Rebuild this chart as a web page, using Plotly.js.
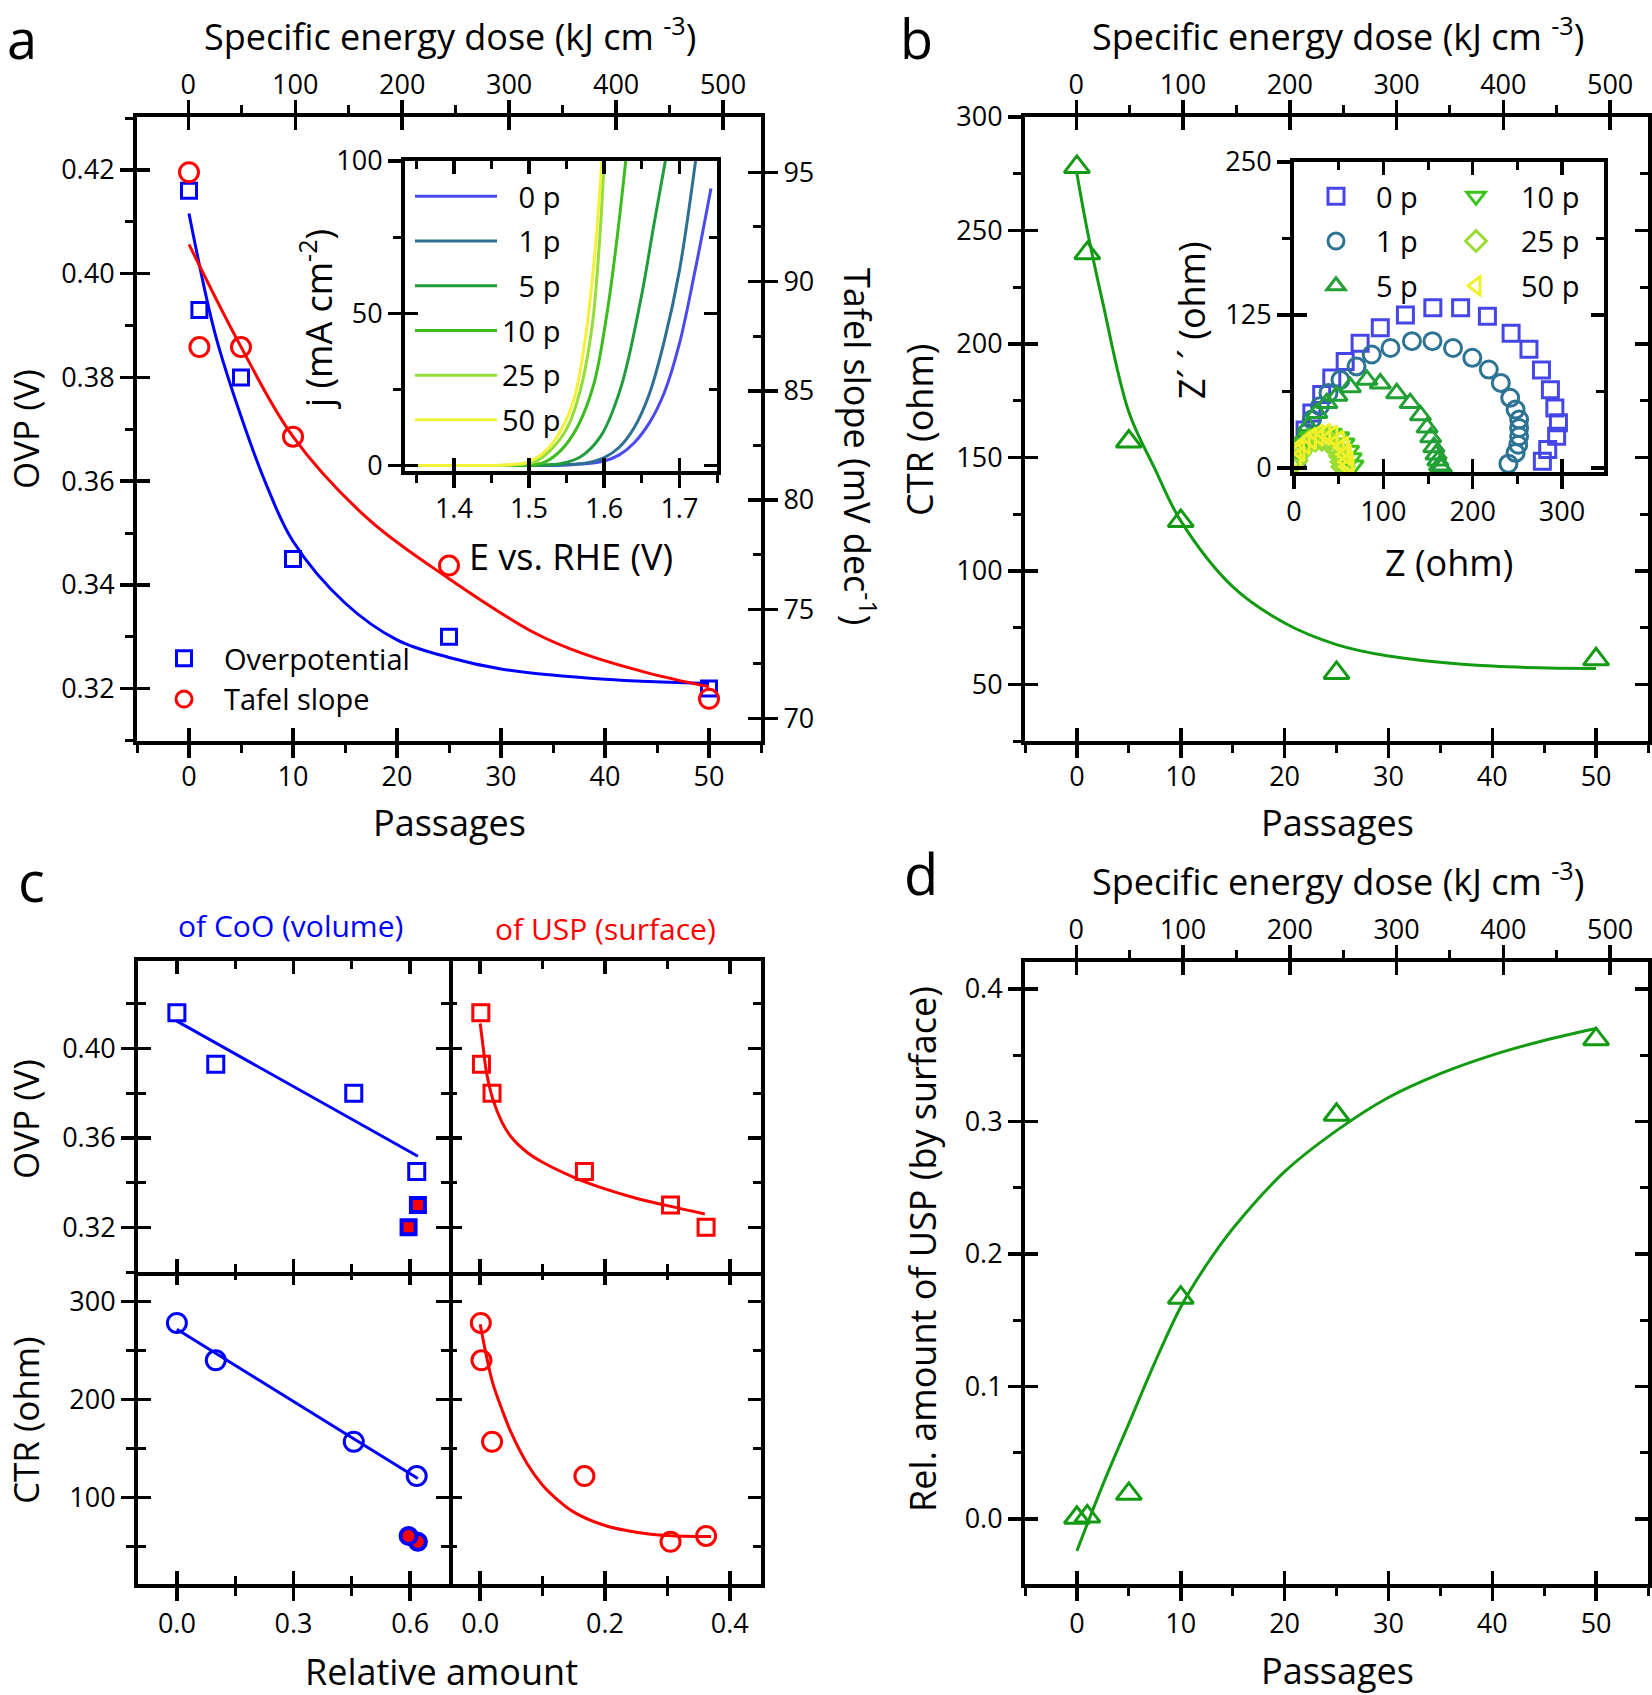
<!DOCTYPE html>
<html>
<head>
<meta charset="utf-8">
<script src="https://cdn.plot.ly/plotly-3.0.1.min.js"></script>
<style>
html,body{margin:0;padding:0;background:#fff;}
#chart{width:1652px;height:1695px;}
</style>
</head>
<body>
<div id="chart"></div>
<script>
// ================= DATA =================
// panel a
const passages = [0, 1, 5, 10, 25, 50];
const overpotential = [0.416, 0.393, 0.380, 0.345, 0.330, 0.320];
const tafelSlope = [95.0, 87.0, 87.0, 82.9, 77.0, 70.9];
const ovpFitX = [0, 2.5, 5, 7.5, 10, 15, 20, 25, 30, 40, 50];
const ovpFitY = [0.4116, 0.3885, 0.3725, 0.3590, 0.3484, 0.3365, 0.3294, 0.3260, 0.3238, 0.3218, 0.3210];
const tafelFitX = [0, 4.9, 10, 17.3, 25, 33.3, 37.7, 44, 50];
const tafelFitY = [91.7, 87.1, 82.9, 79.1, 76.4, 73.9, 73.0, 72.1, 71.45];
// panel a inset (LSV)
const lsvLabels = ['0 p', '1 p', '5 p', '10 p', '25 p', '50 p'];
const lsvE_0p = [1.335, 1.45, 1.54, 1.57, 1.60, 1.62, 1.64, 1.66, 1.68, 1.70, 1.72, 1.742];
const lsvJ_0p = [0, 0, 0.1, 0.5, 1.5, 3.5, 7.5, 14, 24, 40, 63, 91];
const lsvE_1p = [1.335, 1.45, 1.53, 1.56, 1.58, 1.60, 1.62, 1.64, 1.66, 1.68, 1.70, 1.722];
const lsvJ_1p = [0, 0, 0.1, 0.4, 1.0, 2.6, 6.0, 12.5, 23.5, 41, 64, 101];
const lsvE_5p = [1.335, 1.45, 1.51, 1.53, 1.542, 1.568, 1.595, 1.622, 1.649, 1.666, 1.682];
const lsvJ_5p = [0, 0, 0.1, 0.3, 0.6, 2.8, 9.5, 25.5, 55, 79, 101];
const lsvE_10p = [1.335, 1.44, 1.49, 1.51, 1.520, 1.542, 1.564, 1.586, 1.604, 1.617, 1.629];
const lsvJ_10p = [0, 0, 0.1, 0.4, 1.0, 4.9, 12.5, 26.6, 50.5, 74.5, 101];
const lsvE_25p = [1.335, 1.43, 1.47, 1.49, 1.506, 1.528, 1.551, 1.568, 1.584, 1.594, 1.600];
const lsvJ_25p = [0, 0, 0.1, 0.4, 1.0, 4.9, 12.5, 24.5, 46, 74.5, 101];
const lsvE_50p = [1.335, 1.42, 1.46, 1.48, 1.497, 1.520, 1.542, 1.560, 1.575, 1.588, 1.597];
const lsvJ_50p = [0, 0, 0.1, 0.4, 1.0, 4.3, 11.4, 22, 42, 71, 101];
// panel b
const ctr = [278, 240, 157, 122, 55, 61];
const ctrFitX = [0, 1, 2.5, 5, 7.5, 10, 15, 20, 25, 30, 40, 50];
const ctrFitY = [275, 250, 218, 170, 145, 122, 93, 77, 67.5, 62.5, 58, 57];
// panel b inset (Nyquist)
const nyqZ_0p = [3, 6.7, 12.4, 20, 31, 42.3, 57.3, 74, 96.6, 124.7, 155.4, 186.5, 216.5, 243, 263, 277, 287, 292, 296, 294, 284, 278];
const nyqZi_0p = [6.8, 17.7, 31, 45, 60, 73.6, 87, 102, 114.5, 125, 131, 131, 124, 110, 97, 80, 64, 49, 37, 26, 15, 5.5];
const nyqZ_1p = [8.6, 14, 20, 29, 38.6, 52, 70, 87, 108, 132, 155, 178, 199.6, 218, 231.5, 242, 248, 252, 252, 252, 251, 248, 240];
const nyqZi_1p = [17.7, 28.6, 39.5, 50.4, 61.3, 72, 83, 92.7, 98, 103.6, 103.6, 98, 90, 80.4, 69.5, 57.3, 47.7, 39.5, 32.7, 25.9, 19, 12.3, 3.5];
const nyqZ_5p = [3, 8.6, 16, 25.5, 36.7, 48, 63, 81.6, 96.6, 115, 130, 141.6, 149, 153, 156.6, 159, 161, 163, 165];
const nyqZi_5p = [12, 23, 34, 45, 53, 59, 66, 72, 69, 61, 53, 43, 33, 25, 17, 11, 6, 2, 0.5];
const nyqZ_10p = [2, 6, 11, 18, 26, 34, 42, 50, 56, 61, 64, 66];
const nyqZi_10p = [7, 14, 20, 25, 28, 29, 28, 25, 20, 14, 8, 2];
const nyqZ_25p = [2, 6, 11, 17, 24, 31, 38, 44, 49, 52, 54, 55];
const nyqZi_25p = [6, 12, 17, 21, 23, 23.5, 22, 19, 15, 10, 5, 1];
const nyqZ_50p = [2, 6, 12, 19, 27, 35, 43, 50, 55, 58, 60, 61];
const nyqZi_50p = [7, 14, 20, 24, 27, 27.5, 26, 22, 17, 11, 5, 1];
// panel c
const cooRel = [0.0, 0.10, 0.455, 0.617, 0.620, 0.596];
const uspRel = [0.001, 0.002, 0.019, 0.167, 0.305, 0.362];
const cooOvpFitX = [0, 0.62];
const cooOvpFitY = [0.4123, 0.3518];
const cooCtrFitX = [0, 0.62];
const cooCtrFitY = [271.6, 119.5];
const uspOvpFitX = [0, 0.005, 0.01, 0.02, 0.035, 0.05, 0.075, 0.1, 0.15, 0.2, 0.25, 0.3, 0.36];
const uspOvpFitY = [0.4112, 0.400, 0.3895, 0.3776, 0.367, 0.3603, 0.3536, 0.3491, 0.3424, 0.3372, 0.333, 0.3297, 0.326];
const uspCtrFitX = [0, 0.01, 0.02, 0.035, 0.05, 0.075, 0.1, 0.125, 0.15, 0.2, 0.25, 0.3, 0.37];
const uspCtrFitY = [276.8, 244.3, 217, 189.6, 165.7, 134.9, 112.7, 97.3, 85.3, 71.6, 64.8, 61.4, 60.3];
// panel d
const uspFitX = [0, 2.5, 5, 7.5, 10, 12.5, 15, 20, 25, 30, 35, 40, 45, 50];
const uspFitY = [-0.024, 0.026, 0.072, 0.118, 0.160, 0.192, 0.219, 0.262, 0.293, 0.318, 0.336, 0.350, 0.361, 0.370];

// ================= STYLE =================
const W = 1652, H = 1695;
const FONT = '"Open Sans", "Noto Sans", sans-serif';
const LW = 4, TL = 13, TW = 3.5, ML = 8, MW = 3;
const BLUE = '#0000ff', RED = '#ff0000', GREEN = '#139a13';
const lsvColors = ['#4a4aee', '#2e7093', '#1f9d3c', '#3cbd1e', '#94dd3c', '#f2f23a'];
const nyqColors = ['#4646e8', '#2d7394', '#22a035', '#3cc31e', '#99dd33', '#f0f02a'];
const nyqSymbols = ['square-open', 'circle-open', 'triangle-up-open', 'triangle-down-open', 'diamond-open', 'triangle-left-open'];
const nyqSizes = [16, 17, 18, 18, 17, 18];

const layout = {
  width: W, height: H, margin: {l: 0, r: 0, t: 0, b: 0},
  paper_bgcolor: '#fff', plot_bgcolor: 'rgba(0,0,0,0)',
  font: {family: FONT, size: 27, color: '#000'},
  showlegend: true, annotations: []
};
const px = v => v / W, py = v => 1 - v / H;
const helperTraces = [];

let nx = 0, ny = 0;
function nid(l) { if (l === 'x') { nx++; return nx === 1 ? 'x' : 'x' + nx; } ny++; return ny === 1 ? 'y' : 'y' + ny; }
function key(id) { return (id[0] === 'x' ? 'xaxis' : 'yaxis') + id.slice(1); }
function mkAxis(letter, o) {
  const id = nid(letter);
  const a = {
    range: o.range, anchor: o.anchor, side: o.side,
    showgrid: false, zeroline: false, fixedrange: true,
    tickmode: 'linear', tick0: o.tick0, dtick: o.dtick,
    ticks: o.ticks || '', ticklen: TL, tickwidth: TW, tickcolor: '#000',
    showline: !!o.line, linewidth: LW, linecolor: '#000',
    showticklabels: !!o.labels,
    tickfont: {family: FONT, size: o.fs || 27, color: '#000'}
  };
  if (o.fmt) a.tickformat = o.fmt;
  if (o.tls) a.ticklabelstandoff = o.tls;
  if (o.domain) a.domain = o.domain;
  if (o.overlaying) {
    a.overlaying = o.overlaying;
    // an empty helper trace so that the overlaid axis gets drawn
    helperTraces.push({type: 'scatter', mode: 'markers', x: [null], y: [null],
      xaxis: letter === 'x' ? id : o.anchor, yaxis: letter === 'y' ? id : o.anchor,
      showlegend: false, hoverinfo: 'skip'});
  }
  if (o.minor) a.minor = {dtick: o.minor, tick0: o.tick0, ticks: o.minorTicks, ticklen: ML, tickwidth: MW, tickcolor: '#000', showgrid: false};
  layout[key(id)] = a;
  return id;
}
// one frame side: outer axis (outside ticks) + inner twin (inside ticks)
function frameSide(letter, o) {
  const base = {range: o.range, anchor: o.anchor, side: o.side, tick0: o.tick0, dtick: o.dtick};
  const outer = mkAxis(letter, Object.assign({}, base, {
    domain: o.domain, overlaying: o.overlaying, line: o.line !== false, labels: o.labels, fmt: o.fmt, fs: o.fs, tls: o.tls,
    ticks: o.outMajor ? 'outside' : '', minor: o.outMinor ? o.minor : null, minorTicks: 'outside'
  }));
  const ov = o.overlaying || outer;
  if (o.inMajor || o.inMinor) {
    mkAxis(letter, Object.assign({}, base, {
      overlaying: ov, line: false, labels: false,
      ticks: o.inMajor ? 'inside' : '', minor: o.inMinor ? o.minor : null, minorTicks: 'inside'
    }));
  }
  return outer;
}
function peek(l) { return l === 'x' ? (nx === 0 ? 'x' : 'x' + (nx + 1)) : (ny === 0 ? 'y' : 'y' + (ny + 1)); }

// ---------- panel a ----------
const aDX = [px(137), px(761)], aDY = [py(741), py(117)];
const ax_a = peek('x'), ay_a = peek('y');
frameSide('x', {domain: aDX, anchor: ay_a, side: 'bottom', range: [-5, 55], tick0: 0, dtick: 10, minor: 5, labels: true, tls: -4, outMajor: true, outMinor: true, inMajor: true});
frameSide('y', {domain: aDY, anchor: ax_a, side: 'left', range: [0.3099, 0.4302], tick0: 0.32, dtick: 0.02, minor: 0.01, fmt: '.2f', labels: true, outMajor: true, outMinor: true, inMajor: true});
frameSide('x', {overlaying: ax_a, anchor: ay_a, side: 'top', range: [-48, 535.5], tick0: 0, dtick: 100, minor: 50, labels: true, tls: -5, outMajor: true, outMinor: true, inMajor: true});
const ay_aR = frameSide('y', {overlaying: ay_a, anchor: ax_a, side: 'right', range: [68.97, 97.53], tick0: 70, dtick: 5, minor: 2.5, labels: true, outMajor: true, inMajor: true, inMinor: true});

// ---------- panel a inset ----------
const iaDX = [px(405), px(717)], iaDY = [py(471), py(161)];
const ax_ia = peek('x'), ay_ia = peek('y');
frameSide('x', {domain: iaDX, anchor: ay_ia, side: 'bottom', range: [1.335, 1.75], tick0: 1.4, dtick: 0.1, minor: 0.05, fmt: '.1f', labels: true, tls: -2, outMajor: true, outMinor: true, inMajor: true});
frameSide('y', {domain: iaDY, anchor: ax_ia, side: 'left', range: [-1.8, 100], tick0: 0, dtick: 50, minor: 25, labels: true, outMajor: true, outMinor: true, inMajor: true});
frameSide('x', {overlaying: ax_ia, anchor: ay_ia, side: 'top', range: [1.335, 1.75], tick0: 1.4, dtick: 0.1, minor: 0.05, inMajor: true, inMinor: true});
frameSide('y', {overlaying: ay_ia, anchor: ax_ia, side: 'right', range: [-1.8, 100], tick0: 0, dtick: 50, minor: 25, inMajor: true, inMinor: true});

// ---------- panel b ----------
const bDX = [px(1025), px(1648)];
const ax_b = peek('x'), ay_b = peek('y');
frameSide('x', {domain: bDX, anchor: ay_b, side: 'bottom', range: [-5, 55], tick0: 0, dtick: 10, minor: 5, labels: true, tls: -4, outMajor: true, outMinor: true, inMajor: true});
frameSide('y', {domain: aDY, anchor: ax_b, side: 'left', range: [25, 300], tick0: 50, dtick: 50, minor: 25, labels: true, outMajor: true, outMinor: true, inMajor: true});
frameSide('x', {overlaying: ax_b, anchor: ay_b, side: 'top', range: [-48, 535.5], tick0: 0, dtick: 100, minor: 50, labels: true, tls: -5, outMajor: true, outMinor: true, inMajor: true});
frameSide('y', {overlaying: ay_b, anchor: ax_b, side: 'right', range: [25, 300], tick0: 50, dtick: 50, minor: 25, outMajor: true, inMajor: true, inMinor: true});

// ---------- panel b inset ----------
const ibDX = [px(1294), px(1604)], ibDY = [py(472), py(162)];
const ax_ib = peek('x'), ay_ib = peek('y');
frameSide('x', {domain: ibDX, anchor: ay_ib, side: 'bottom', range: [0, 347], tick0: 0, dtick: 100, minor: 50, labels: true, outMajor: true, outMinor: true, inMajor: true});
frameSide('y', {domain: ibDY, anchor: ax_ib, side: 'left', range: [-3.3, 250], tick0: 0, dtick: 125, minor: 62.5, labels: true, outMajor: true, outMinor: true, inMajor: true});
frameSide('x', {overlaying: ax_ib, anchor: ay_ib, side: 'top', range: [0, 347], tick0: 0, dtick: 100, minor: 50, inMajor: true, inMinor: true});
frameSide('y', {overlaying: ay_ib, anchor: ax_ib, side: 'right', range: [-3.3, 250], tick0: 0, dtick: 125, minor: 62.5, inMajor: true, inMinor: true});

// ---------- panel c ----------
const cLX = [px(138), px(449)], cRX = [px(449), px(761)];
const cTY = [py(1272), py(961)], cBY = [py(1584), py(1272)];
const cooRange = [-0.1, 0.7], uspRange = [-0.05, 0.45], ovpRange = [0.30, 0.4392], ctrRange = [12, 330];
// leftLine / topLine: whether this sub-panel draws its own left / top frame line
function cSub(dx, dy, xr, xd, xm, xfmt, yr, yt0, yd, ym, yfmt, xLab, yLab, leftLine, topLine) {
  const xa = peek('x'), ya = peek('y');
  frameSide('x', {domain: dx, anchor: ya, side: 'bottom', range: xr, tick0: 0, dtick: xd, minor: xm, fmt: xfmt, labels: xLab, outMajor: xLab, outMinor: xLab, inMajor: true, inMinor: true});
  frameSide('y', {domain: dy, anchor: xa, side: 'left', range: yr, tick0: yt0, dtick: yd, minor: ym, fmt: yfmt, labels: yLab, line: leftLine, outMajor: yLab, outMinor: yLab, inMajor: true, inMinor: true});
  frameSide('x', {overlaying: xa, anchor: ya, side: 'top', range: xr, tick0: 0, dtick: xd, minor: xm, line: topLine, inMajor: true, inMinor: true});
  frameSide('y', {overlaying: ya, anchor: xa, side: 'right', range: yr, tick0: yt0, dtick: yd, minor: ym, inMajor: true, inMinor: true});
  return [xa, ya];
}
const [ax_tl, ay_tl] = cSub(cLX, cTY, cooRange, 0.3, 0.15, '.1f', ovpRange, 0.32, 0.04, 0.02, '.2f', false, true, true, true);
const [ax_tr, ay_tr] = cSub(cRX, cTY, uspRange, 0.2, 0.1, '.1f', ovpRange, 0.32, 0.04, 0.02, '.2f', false, false, false, true);
const [ax_bl, ay_bl] = cSub(cLX, cBY, cooRange, 0.3, 0.15, '.1f', ctrRange, 100, 100, 50, '', true, true, true, false);
const [ax_br, ay_br] = cSub(cRX, cBY, uspRange, 0.2, 0.1, '.1f', ctrRange, 100, 100, 50, '', true, false, false, false);

// ---------- panel d ----------
const dDY = [py(1584), py(962)];
const ax_d = peek('x'), ay_d = peek('y');
frameSide('x', {domain: bDX, anchor: ay_d, side: 'bottom', range: [-5, 55], tick0: 0, dtick: 10, minor: 5, labels: true, outMajor: true, outMinor: true, inMajor: true});
frameSide('y', {domain: dDY, anchor: ax_d, side: 'left', range: [-0.049, 0.4202], tick0: 0, dtick: 0.1, minor: 0.05, fmt: '.1f', labels: true, outMajor: true, outMinor: true, inMajor: true});
frameSide('x', {overlaying: ax_d, anchor: ay_d, side: 'top', range: [-48, 535.5], tick0: 0, dtick: 100, minor: 50, labels: true, tls: -5, outMajor: true, outMinor: true, inMajor: true});
frameSide('y', {overlaying: ay_d, anchor: ax_d, side: 'right', range: [-0.049, 0.4202], tick0: 0, dtick: 0.1, minor: 0.05, outMajor: true, inMajor: true, inMinor: true});

// ================= TRACES =================
const traces = [];
const line = (x, y, xa, ya, color, w) => ({type: 'scatter', mode: 'lines', x, y, xaxis: xa, yaxis: ya, line: {color, width: w || 3, shape: 'spline', smoothing: 1}, showlegend: false, hoverinfo: 'skip'});
const pts = (x, y, xa, ya, symbol, color, size, lw, extra) => Object.assign({type: 'scatter', mode: 'markers', x, y, xaxis: xa, yaxis: ya, marker: {symbol, size, color, line: {color, width: lw || 3}}, showlegend: false, cliponaxis: false}, extra || {});

// panel a
traces.push(line(ovpFitX, ovpFitY, ax_a, ay_a, BLUE));
traces.push(line(tafelFitX, tafelFitY, ax_a, ay_aR, RED));
traces.push(pts(passages, overpotential, ax_a, ay_a, 'square-open', BLUE, 15, 3, {name: 'Overpotential', showlegend: true, legend: 'legend'}));
traces.push(pts(passages, tafelSlope, ax_a, ay_aR, 'circle-open', RED, 19, 3, {name: 'Tafel slope', showlegend: true, legend: 'legend'}));
// panel a inset
const lsvE = [lsvE_0p, lsvE_1p, lsvE_5p, lsvE_10p, lsvE_25p, lsvE_50p];
const lsvJ = [lsvJ_0p, lsvJ_1p, lsvJ_5p, lsvJ_10p, lsvJ_25p, lsvJ_50p];
const FS = '\u2007';
for (let i = 0; i < 6; i++) {
  const t = line(lsvE[i], lsvJ[i], ax_ia, ay_ia, lsvColors[i], 3);
  t.name = (lsvLabels[i].length < 4 ? FS : '') + lsvLabels[i];
  t.showlegend = true; t.legend = 'legend2'; t.legendgroup = 'lsv' + i;
  traces.push(t);
}
// panel b
traces.push(line(ctrFitX, ctrFitY, ax_b, ay_b, GREEN));
traces.push(pts(passages, ctr, ax_b, ay_b, 'triangle-up-open', GREEN, 22, 3));
// panel b inset
const nyqZ = [nyqZ_0p, nyqZ_1p, nyqZ_5p, nyqZ_10p, nyqZ_25p, nyqZ_50p];
const nyqZi = [nyqZi_0p, nyqZi_1p, nyqZi_5p, nyqZi_10p, nyqZi_25p, nyqZi_50p];
for (let i = 0; i < 6; i++) {
  traces.push(pts(nyqZ[i], nyqZi[i], ax_ib, ay_ib, nyqSymbols[i], nyqColors[i], nyqSizes[i], 3,
    {name: lsvLabels[i], showlegend: true, legend: i < 3 ? 'legend3' : 'legend4', legendgroup: 'nyq' + i, cliponaxis: true}));
}
// panel c
const open4 = a => a.slice(0, 4), fill2 = a => a.slice(4);
traces.push(line(cooOvpFitX, cooOvpFitY, ax_tl, ay_tl, BLUE));
traces.push(pts(open4(cooRel), open4(overpotential), ax_tl, ay_tl, 'square-open', BLUE, 16, 3));
traces.push(pts(fill2(cooRel), fill2(overpotential), ax_tl, ay_tl, 'square', RED, 14, 4, {marker: {symbol: 'square', size: 14, color: RED, line: {color: BLUE, width: 4}}}));
traces.push(line(uspOvpFitX, uspOvpFitY, ax_tr, ay_tr, RED));
traces.push(pts(uspRel, overpotential, ax_tr, ay_tr, 'square-open', RED, 16, 3));
traces.push(line(cooCtrFitX, cooCtrFitY, ax_bl, ay_bl, BLUE));
traces.push(pts(open4(cooRel), open4(ctr), ax_bl, ay_bl, 'circle-open', BLUE, 19, 3));
traces.push(pts(fill2(cooRel), fill2(ctr), ax_bl, ay_bl, 'circle', RED, 16, 4, {marker: {symbol: 'circle', size: 16, color: RED, line: {color: BLUE, width: 4}}}));
traces.push(line(uspCtrFitX, uspCtrFitY, ax_br, ay_br, RED));
traces.push(pts(uspRel, ctr, ax_br, ay_br, 'circle-open', RED, 19, 3));
// panel d
traces.push(line(uspFitX, uspFitY, ax_d, ay_d, GREEN));
traces.push(pts(passages, uspRel, ax_d, ay_d, 'triangle-up-open', GREEN, 22, 3));

// ================= LEGENDS =================
const legBase = {xanchor: 'left', yanchor: 'top', bgcolor: 'rgba(0,0,0,0)', borderwidth: 0, font: {family: FONT, size: 29, color: '#000'}, tracegroupgap: 4};
layout.legend = Object.assign({}, legBase, {x: px(144), y: py(633), itemwidth: 70, tracegroupgap: 0});
layout.legend2 = Object.assign({}, legBase, {x: px(410), y: py(171), itemwidth: 82});
layout.legend3 = Object.assign({}, legBase, {x: px(1296), y: py(171), itemwidth: 70});
layout.legend4 = Object.assign({}, legBase, {x: px(1431), y: py(171), itemwidth: 80});

// ================= TEXT =================
function A(text, x, y, size, o) {
  o = o || {};
  layout.annotations.push({text, x: px(x), y: py(y), xref: 'paper', yref: 'paper', showarrow: false,
    xanchor: 'center', yanchor: 'middle', textangle: o.angle || 0,
    font: {family: FONT, size, color: o.color || '#000'}});
}
const doseTitle = 'Specific energy dose (kJ cm <sup>-3</sup>)';
A('a', 22, 38, 54); A('b', 917, 38, 54); A('c', 31, 880, 56); A('d', 921, 873, 56);
A(doseTitle, 450, 35, 36); A(doseTitle, 1338, 35, 36); A(doseTitle, 1338, 879, 36);
A('Passages', 449, 822, 36); A('Passages', 1337, 822, 36); A('Passages', 1337, 1670, 36);
A('OVP (V)', 25, 429, 35, {angle: -90});
A('Tafel slope (mV dec<sup>-1</sup>)', 860, 446, 36, {angle: 90});
A('j (mA cm<sup>-2</sup>)', 316, 319, 36, {angle: -90});
A('E vs. RHE (V)', 571, 556, 36);
A('CTR (ohm)', 919, 430, 36, {angle: -90});
A('Z\u00b4 \u00b4 (ohm)', 1191, 320, 36, {angle: -90});
A('Z (ohm)', 1449, 563, 36);
A('of CoO (volume)', 290, 925, 30, {color: BLUE});
A('of USP (surface)', 605, 928, 30, {color: RED});
A('OVP (V)', 25, 1119, 35, {angle: -90});
A('CTR (ohm)', 25, 1420, 35, {angle: -90});
A('Relative amount', 441, 1671, 36);
A('Rel. amount of USP (by surface)', 922, 1249, 36, {angle: -90});

Plotly.newPlot('chart', traces.concat(helperTraces), layout, {staticPlot: true, displayModeBar: false});
</script>
</body>
</html>
